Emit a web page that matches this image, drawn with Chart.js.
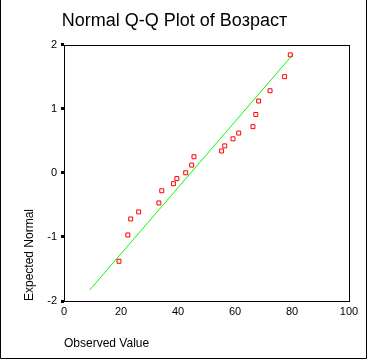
<!DOCTYPE html>
<html>
<head>
<meta charset="utf-8" />
<title>Normal Q-Q Plot</title>
<script src="https://cdn.jsdelivr.net/npm/chart.js@4.4.0/dist/chart.umd.min.js"></script>
<style>
    html, body { margin: 0; padding: 0; background: #fff; }
    #box { width: 368px; height: 360px; position: relative; }
</style>
</head>
<body>
<div id="box"><canvas id="qq"></canvas></div>
<script>
    var observed = [19.3, 22.4, 23.4, 26.2, 33.3, 34.3, 38.4, 39.6, 42.7, 44.8, 45.6,
                    55.3, 56.4, 59.3, 61.3, 66.3, 67.3, 68.3, 72.3, 77.4, 79.4];
    var expected = [-1.38, -0.97, -0.72, -0.61, -0.47, -0.28, -0.17, -0.09, 0.00, 0.12, 0.25,
                    0.34, 0.42, 0.53, 0.62, 0.72, 0.91, 1.12, 1.28, 1.50, 1.84];
    // reference line endpoints
    var lineX = [9.0, 80.4];
    var lineY = [-1.83, 1.85];
    var xTicks = [0, 20, 40, 60, 80, 100];
    var yTicks = [-2, -1, 0, 1, 2];

    var pts = observed.map(function(v, i) { return {x: v, y: expected[i]}; });
    var linePts = lineX.map(function(v, i) { return {x: v, y: lineY[i]}; });

    var frame = {
        id: 'frame',
        beforeDraw: function(chart) {
            var c = chart.ctx;
            c.save();
            c.fillStyle = '#fff';
            c.fillRect(0, 0, chart.width, chart.height);
            c.restore();
        },
        afterDraw: function(chart) {
            var c = chart.ctx, a = chart.chartArea;
            c.save();
            c.strokeStyle = '#000';
            c.lineWidth = 1;
            c.strokeRect(Math.round(a.left) + 0.5, Math.round(a.top) + 0.5,
                Math.round(a.right - a.left), Math.round(a.bottom - a.top));
            // outer border: left, right, bottom
            c.beginPath();
            c.moveTo(0.5, 0);
            c.lineTo(0.5, chart.height - 1.5);
            c.lineTo(chart.width - 1.5, chart.height - 1.5);
            c.lineTo(chart.width - 1.5, 0);
            c.stroke();
            c.restore();
        }
    };

    Chart.defaults.font.family = '"Liberation Sans", Arial, sans-serif';
    Chart.defaults.color = '#000';

    new Chart(document.getElementById('qq'), {
        type: 'scatter',
        data: {
            datasets: [{
                type: 'line',
                data: linePts,
                borderColor: '#00ff00',
                borderWidth: 1,
                pointRadius: 0,
                fill: false,
                order: 2
            }, {
                data: pts,
                pointStyle: 'rect',
                pointRadius: 2.8,
                borderColor: '#ff0000',
                backgroundColor: 'rgba(0,0,0,0)',
                borderWidth: 1,
                order: 1
            }]
        },
        options: {
            responsive: true,
            maintainAspectRatio: false,
            animation: false,
            layout: { padding: { top: 0, right: 19, left: 0, bottom: 0 } },
            plugins: {
                legend: { display: false },
                tooltip: { enabled: false },
                title: {
                    display: true,
                    text: 'Normal Q-Q Plot of Возраст',
                    font: { size: 18, weight: 'normal' },
                    color: '#000',
                    padding: { top: 10, bottom: 13 }
                }
            },
            scales: {
                x: {
                    type: 'linear',
                    min: 0, max: 100,
                    afterBuildTicks: function(s) { s.ticks = xTicks.map(function(v) { return {value: v}; }); },
                    afterFit: function(s) { s.height = 59; },
                    grid: { display: true, drawOnChartArea: false, drawTicks: false },
                    border: { display: false },
                    ticks: { font: { size: 11 }, padding: 4, maxRotation: 0 },
                    title: {
                        display: true, text: 'Observed Value', align: 'start',
                        font: { size: 12 }, padding: { top: 4, bottom: 9 }
                    }
                },
                y: {
                    type: 'linear',
                    min: -2, max: 2,
                    afterBuildTicks: function(s) { s.ticks = yTicks.map(function(v) { return {value: v}; }); },
                    afterFit: function(s) { s.width = 64; },
                    grid: { drawOnChartArea: false, tickLength: 3, tickWidth: 3, tickColor: '#000' },
                    border: { display: false },
                    ticks: { font: { size: 11 }, padding: 4 },
                    title: {
                        display: true, text: 'Expected Normal', align: 'start',
                        font: { size: 12 }, padding: { top: 22, bottom: 0 }
                    }
                }
            }
        },
        plugins: [frame]
    });
</script>
</body>
</html>
